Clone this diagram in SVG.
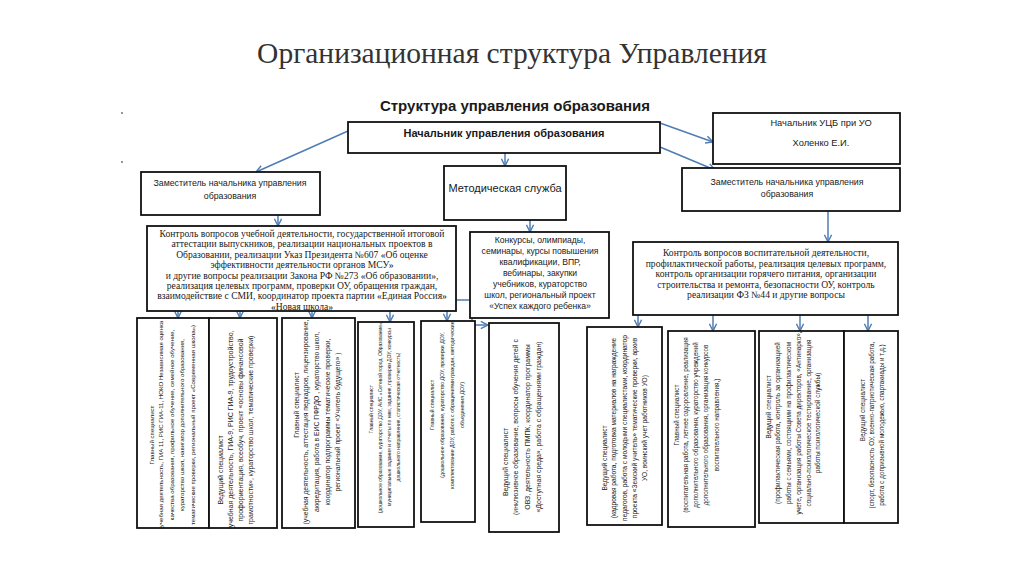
<svg xmlns="http://www.w3.org/2000/svg" width="1024" height="574" viewBox="0 0 1024 574">
<style>
.box{fill:#fff;stroke:#111;stroke-width:1.8}
.c{stroke:#4f7db3;stroke-width:1.5;fill:none}
.s{font-family:"Liberation Sans",Arial,sans-serif;fill:#1a1a1a;text-anchor:middle}
.r{font-family:"Liberation Serif","Times New Roman",serif;fill:#1a1a1a;text-anchor:middle;font-size:9.6px}
.v{font-family:"Liberation Sans",Arial,sans-serif;fill:#222;text-anchor:middle}
</style>
<defs>
<marker id="a" viewBox="0 0 10 10" refX="9" refY="5" markerWidth="9" markerHeight="9" markerUnits="userSpaceOnUse" orient="auto">
<path d="M1,1 L9,5 L1,9" fill="none" stroke="#4f7db3" stroke-width="1.6"/>
</marker>
</defs>
<rect width="1024" height="574" fill="#fff"/>
<text x="512" y="63" font-family="'Liberation Serif','Times New Roman',serif" font-size="29.5" fill="#333" text-anchor="middle">Организационная структура Управления</text>
<circle cx="122" cy="113" r="0.9" fill="#666"/>
<circle cx="122" cy="162" r="0.9" fill="#666"/>
<text x="515" y="111" class="s" font-size="15" font-weight="bold">Структура управления образования</text>

<g id="connectors">
<line class="c" x1="348" y1="131" x2="256" y2="172" marker-end="url(#a)"/>
<line class="c" x1="505" y1="153" x2="505" y2="166" marker-end="url(#a)"/>
<line class="c" x1="660" y1="123" x2="713" y2="142" marker-end="url(#a)"/>
<line class="c" x1="660" y1="147" x2="715" y2="170" marker-end="url(#a)"/>
<line class="c" x1="278" y1="215" x2="278" y2="226" marker-end="url(#a)"/>
<line class="c" x1="530" y1="220" x2="530" y2="232" marker-end="url(#a)"/>
<line class="c" x1="828" y1="211" x2="828" y2="242" marker-end="url(#a)"/>
<line class="c" x1="178" y1="311" x2="178" y2="318" marker-end="url(#a)"/>
<line class="c" x1="240" y1="311" x2="240" y2="318" marker-end="url(#a)"/>
<line class="c" x1="312" y1="311" x2="312" y2="318" marker-end="url(#a)"/>
<line class="c" x1="390" y1="311" x2="390" y2="322" marker-end="url(#a)"/>
<line class="c" x1="447" y1="311" x2="447" y2="321" marker-end="url(#a)"/>
<path class="c" d="M456,300 H472 V325 H488" marker-end="url(#a)"/>
<line class="c" x1="638" y1="315" x2="638" y2="327" marker-end="url(#a)"/>
<line class="c" x1="713" y1="315" x2="713" y2="331" marker-end="url(#a)"/>
<line class="c" x1="800" y1="315" x2="800" y2="331" marker-end="url(#a)"/>
<line class="c" x1="868" y1="315" x2="868" y2="331" marker-end="url(#a)"/>
</g>

<g id="head">
<rect class="box" x="348" y="122" width="312" height="31"/>
<text x="504" y="137" class="s" font-size="11" font-weight="bold">Начальник управления образования</text>
</g>
<g id="metod">
<rect class="box" x="444" y="166" width="122" height="54"/>
<text x="505" y="192" class="s" font-size="11">Методическая служба</text>
</g>
<g id="ucb">
<rect class="box" x="713" y="113" width="187" height="51"/>
<text x="821" y="126" class="s" font-size="9.3">Начальник УЦБ при УО</text>
<text x="821" y="146" class="s" font-size="9.3">Холенко Е.И.</text>
</g>
<g id="deputyL">
<rect class="box" x="141" y="172" width="179" height="43"/>
<text x="230" y="186" class="s" font-size="8.8">Заместитель начальника управления</text>
<text x="230" y="199" class="s" font-size="8.8">образования</text>
</g>
<g id="deputyR">
<rect class="box" x="682" y="168" width="218" height="43"/>
<text x="787" y="185" class="s" font-size="8.8">Заместитель начальника управления</text>
<text x="787" y="197" class="s" font-size="8.8">образования</text>
</g>
<g id="controlL">
<rect class="box" x="147" y="226" width="309" height="85"/>
<text class="r" x="302"><tspan x="302" y="237">Контроль вопросов учебной деятельности, государственной итоговой</tspan><tspan x="302" y="247.4">аттестации выпускников, реализации национальных проектов в</tspan><tspan x="302" y="257.8">Образовании,  реализации Указ Президента №607 «Об оценке</tspan><tspan x="302" y="268.2">эффективности деятельности  органов МСУ»</tspan><tspan x="302" y="278.6">и другие вопросы реализации Закона РФ №273 «Об образовании»,</tspan><tspan x="302" y="289">реализация целевых программ, проверки ОУ, обращения граждан,</tspan><tspan x="302" y="299.4">взаимодействие с СМИ, координатор проекта партии «Единая Россия»</tspan><tspan x="302" y="309.8">«Новая школа»</tspan></text>
</g>
<g id="konkurs">
<rect class="box" x="470" y="232" width="139" height="86"/>
<text class="s" font-size="8.6"><tspan x="540" y="243">Конкурсы, олимпиады,</tspan><tspan x="540" y="254">семинары, курсы повышения</tspan><tspan x="540" y="265">квалификации, ВПР,</tspan><tspan x="540" y="276">вебинары, закупки</tspan><tspan x="540" y="287">учебников, кураторство</tspan><tspan x="540" y="298">школ, региональный проект</tspan><tspan x="540" y="309">«Успех каждого ребенка»</tspan></text>
</g>
<g id="controlR">
<rect class="box" x="633" y="242" width="265" height="73"/>
<text class="r" x="766"><tspan x="766" y="256">Контроль вопросов воспитательной деятельности,</tspan><tspan x="766" y="266.5">профилактической работы, реализация целевых программ,</tspan><tspan x="766" y="277">контроль организации горячего питания, организации</tspan><tspan x="766" y="287.5">строительства и ремонта, безопасности ОУ, контроль</tspan><tspan x="766" y="298">реализации ФЗ №44 и другие вопросы</tspan></text>
</g>

<g id="b1">
<rect class="box" x="137" y="318" width="72" height="210"/>
<g class="v" font-size="6.1">
<text transform="translate(154,435) rotate(-90)">Главный специалист</text>
<text transform="translate(163,425) rotate(-90)">(учебная деятельность, ГИА 11,  РИС ГИА-11, НОКО Независимая оценка</text>
<text transform="translate(174,425) rotate(-90)">качества образования, профильное обучение, семейное обучение,</text>
<text transform="translate(184,425) rotate(-90)">кураторство школ, навигатор дополнительного образования,</text>
<text transform="translate(195,425) rotate(-90)">тематические проверки, региональный проект «Современная школа»)</text>
</g>
</g>
<g id="b2">
<rect class="box" x="209" y="318" width="68" height="210"/>
<g class="v" font-size="7">
<text transform="translate(223,470) rotate(-90)">Ведущий специалист</text>
<text transform="translate(233,430) rotate(-90)">(учебная деятельность, ГИА-9, РИС ГИА-9, трудоустройство,</text>
<text transform="translate(243,430) rotate(-90)">профориентация, всеобуч, проект «основы финансовой</text>
<text transform="translate(253,430) rotate(-90)">грамотности», кураторство школ, тематические проверки)</text>
</g>
</g>
<g id="b3">
<rect class="box" x="282" y="318" width="73" height="210"/>
<g class="v" font-size="6.8">
<text transform="translate(299,405) rotate(-90)">Главный специалист</text>
<text transform="translate(308,422) rotate(-90)">(учебная деятельность, аттестация педкадров, лицензирование,</text>
<text transform="translate(319,422) rotate(-90)">аккредитация, работа в ЕИС ПФРДО , кураторство школ,</text>
<text transform="translate(330,422) rotate(-90)">координатор подпрограммы тематические проверки,</text>
<text transform="translate(340,422) rotate(-90)">региональный проект «Учитель будущего» )</text>
</g>
</g>
<g id="b4">
<rect class="box" x="358" y="322" width="56" height="205"/>
<g class="v" font-size="5">
<text transform="translate(373,409) rotate(-90)">Главный специалист</text>
<text transform="translate(382,417) rotate(-90)">(дошкольное образование, кураторство ДОУ, АИС «Сетевой город. Образование»,</text>
<text transform="translate(391,417) rotate(-90)">муниципальные задания и отчеты по ним, задания, проверки ДОУ, конкурсы</text>
<text transform="translate(400,417) rotate(-90)">дошкольного направления, статистическая отчетность)</text>
</g>
</g>
<g id="b5">
<rect class="box" x="421" y="321" width="54" height="201"/>
<g class="v" font-size="5.2">
<text transform="translate(434,405) rotate(-90)">Главный специалист</text>
<text transform="translate(444,405) rotate(-90)">(дошкольное образование, кураторство ДОУ, проверки ДОУ,</text>
<text transform="translate(454,405) rotate(-90)">комплектование ДОУ, работа с обращениями граждан, методические</text>
<text transform="translate(464,405) rotate(-90)">объединения ДОУ)</text>
</g>
</g>
<g id="b6">
<rect class="box" x="489" y="323" width="70" height="209"/>
<g class="v" font-size="6.9">
<text transform="translate(508,462) rotate(-90)">Ведущий специалист</text>
<text transform="translate(518,427) rotate(-90)">(инклюзивное  образование, вопросы обучения детей с</text>
<text transform="translate(530,427) rotate(-90)">ОВЗ, деятельность ПМПК, координатор программы</text>
<text transform="translate(541,427) rotate(-90)">«Доступная среда», работа с обращениями граждан)</text>
</g>
</g>
<g id="b7">
<rect class="box" x="587" y="327" width="75" height="198"/>
<g class="v" font-size="6.6">
<text transform="translate(607,458) rotate(-90)">Ведущий специалист</text>
<text transform="translate(616,428) rotate(-90)">(кадровая работа, подготовка материалов на награждение</text>
<text transform="translate(627,428) rotate(-90)">педагогов, работа с молодыми специалистами, координатор</text>
<text transform="translate(637,428) rotate(-90)">проекта «Земский учитель» тематические проверки, архив</text>
<text transform="translate(647,428) rotate(-90)">УО, воинский учет работников УО)</text>
</g>
</g>
<g id="b8">
<rect class="box" x="668" y="331" width="87" height="196"/>
<g class="v" font-size="6.3">
<text transform="translate(679,415) rotate(-90)">Главный специалист</text>
<text transform="translate(688,425) rotate(-90)">(воспитательная работа, летнее оздоровление, реализация</text>
<text transform="translate(698,425) rotate(-90)">дополнительного образования, кураторство учреждений</text>
<text transform="translate(708,425) rotate(-90)">дополнительного образования, организация конкурсов</text>
<text transform="translate(719,425) rotate(-90)">воспитательного направления,)</text>
</g>
</g>
<g id="b9">
<rect class="box" x="759" y="331" width="85" height="192"/>
<g class="v" font-size="6.4">
<text transform="translate(771,407) rotate(-90)">Ведущий специалист</text>
<text transform="translate(780,423) rotate(-90)">(профилактическая работа, контроль за организацией</text>
<text transform="translate(791,423) rotate(-90)">работы с  семьями, состоящими на  профилактическом</text>
<text transform="translate(801,423) rotate(-90)">учете, организация работы Совета директоров, «Антинарко»,</text>
<text transform="translate(811,423) rotate(-90)">социально-психологическое тестирование, организация</text>
<text transform="translate(820,423) rotate(-90)">работы психологической службы)</text>
</g>
</g>
<g id="b10">
<rect class="box" x="844" y="331" width="54" height="192"/>
<g class="v" font-size="6.3">
<text transform="translate(865,410) rotate(-90)">Ведущий специалист</text>
<text transform="translate(874,425) rotate(-90)">(спорт, безопасность ОУ, военно-патриотическая работа,</text>
<text transform="translate(884,425) rotate(-90)">работа с допризывной молодежью, спартакиады и т.д.)</text>
</g>
</g>
</svg>
